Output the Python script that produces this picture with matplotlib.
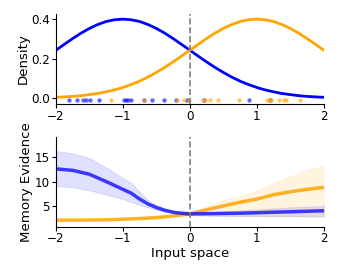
import matplotlib
matplotlib.use("Agg")
import matplotlib.pyplot as plt

# top panel: class densities
xs = [-2.0, -1.875, -1.75, -1.625, -1.5, -1.375, -1.25, -1.125, -1.0,
      -0.875, -0.75, -0.625, -0.5, -0.375, -0.25, -0.125, 0.0,
      0.125, 0.25, 0.375, 0.5, 0.625, 0.75, 0.875, 1.0,
      1.125, 1.25, 1.375, 1.5, 1.625, 1.75, 1.875, 2.0]
dens_blue = [0.242, 0.2717, 0.301, 0.3282, 0.352, 0.3718, 0.387, 0.3958, 0.399,
             0.3958, 0.387, 0.3718, 0.352, 0.3282, 0.301, 0.2717, 0.242,
             0.2121, 0.183, 0.1554, 0.130, 0.1065, 0.086, 0.0689, 0.054,
             0.0417, 0.032, 0.0237, 0.018, 0.0126, 0.009, 0.0064, 0.0044]
dens_orange = dens_blue[::-1]

samples_blue = [-1.80, -1.68, -1.59, -1.55, -1.49, -1.36, -0.98, -0.95, -0.93,
                -0.88, -0.68, -0.56, -0.38, -0.21, -0.04, 0.21, 0.89, 1.20]
samples_orange = [-1.17, -0.68, -0.19, -0.08, -0.02, 0.20, 0.22, 0.30, 0.42,
                  0.73, 1.15, 1.19, 1.21, 1.33, 1.41, 1.43, 1.64]

# bottom panel: memory evidence
ex = [-2.0, -1.75, -1.5, -1.25, -1.0, -0.875, -0.75, -0.625, -0.5, -0.375,
      -0.25, -0.125, 0.0, 0.25, 0.5, 0.75, 1.0, 1.25, 1.5, 1.75, 2.0]
ev_blue = [12.6, 12.3, 11.5, 10.0, 8.4, 7.6, 6.4, 5.4, 4.66, 4.1,
           3.7, 3.5, 3.36, 3.4, 3.45, 3.5, 3.6, 3.7, 3.8, 3.9, 4.0]
ev_blue_hi = [16.3, 15.8, 14.8, 12.9, 10.7, 9.7, 7.9, 6.2, 5.2, 4.5,
              4.0, 3.7, 3.6, 3.75, 3.9, 4.1, 4.3, 4.5, 4.7, 4.85, 5.0]
ev_blue_lo = [9.1, 8.8, 8.2, 7.3, 6.4, 5.8, 5.2, 4.7, 4.2, 3.8,
              3.5, 3.3, 3.1, 3.0, 2.95, 2.9, 2.9, 2.85, 2.85, 2.8, 2.8]
ev_orange = [2.05, 2.07, 2.1, 2.15, 2.26, 2.33, 2.4, 2.5, 2.6, 2.75,
             2.95, 3.15, 3.36, 4.2, 5.0, 5.75, 6.4, 7.3, 7.9, 8.4, 8.8]
ev_orange_hi = [2.1, 2.12, 2.15, 2.2, 2.32, 2.4, 2.48, 2.6, 2.72, 2.9,
                3.1, 3.35, 3.6, 4.9, 6.2, 7.05, 8.1, 9.7, 11.0, 12.4, 13.2]
ev_orange_lo = [2.0, 2.02, 2.05, 2.1, 2.2, 2.26, 2.32, 2.4, 2.48, 2.6,
                2.8, 2.95, 3.1, 3.0, 2.95, 2.9, 2.9, 2.9, 2.9, 2.9, 2.9]

BLUE = "#0000ff"
ORANGE = "#ffa500"

plt.rcParams.update({
    "axes.labelsize": 9.6,
    "xtick.labelsize": 8.6,
    "ytick.labelsize": 8.6,
    "xtick.major.size": 3,
    "ytick.major.size": 3,
    "xtick.major.pad": 1.2,
    "ytick.major.pad": 1.2,
    "axes.labelpad": 1.2,
})

fig = plt.figure(figsize=(3.43, 2.74), dpi=100)
ax1 = fig.add_axes([0.163, 0.620, 0.781, 0.329])
ax2 = fig.add_axes([0.163, 0.173, 0.781, 0.328])

ax1.plot(xs, dens_blue, color=BLUE, lw=2)
ax1.plot(xs, dens_orange, color=ORANGE, lw=2)
ax1.scatter(samples_blue, [-0.01] * len(samples_blue), s=10, color=BLUE, alpha=0.6, lw=0)
ax1.scatter(samples_orange, [-0.01] * len(samples_orange), s=10, color=ORANGE, alpha=0.6, lw=0)
ax1.axvline(0, color="gray", ls="--", lw=1.2)
ax1.set_xlim(-2, 2)
ax1.set_ylim(-0.03, 0.425)
ax1.set_yticks([0.0, 0.2, 0.4])
ax1.set_xticks([-2, -1, 0, 1, 2])
ax1.set_ylabel("Density")

ax2.fill_between(ex, ev_blue_lo, ev_blue_hi, color=BLUE, alpha=0.12, lw=0.6, edgecolor=(0, 0, 1, 0.3))
ax2.fill_between(ex, ev_orange_lo, ev_orange_hi, color=ORANGE, alpha=0.12, lw=0.6, edgecolor=(1, 0.65, 0, 0.3))
ax2.plot(ex, ev_orange, color=ORANGE, lw=2.5, alpha=0.85)
ax2.plot(ex, ev_blue, color=BLUE, lw=2.5, alpha=0.75)
ax2.axvline(0, color="gray", ls="--", lw=1.2)
ax2.set_xlim(-2, 2)
ax2.set_ylim(0.75, 19.2)
ax2.set_yticks([5, 10, 15])
ax2.set_xticks([-2, -1, 0, 1, 2])
ax2.set_ylabel("Memory Evidence")
ax2.set_xlabel("Input space")

for ax in (ax1, ax2):
    ax.spines["top"].set_visible(False)
    ax.spines["right"].set_visible(False)

fig.savefig("out.png", dpi=100)
